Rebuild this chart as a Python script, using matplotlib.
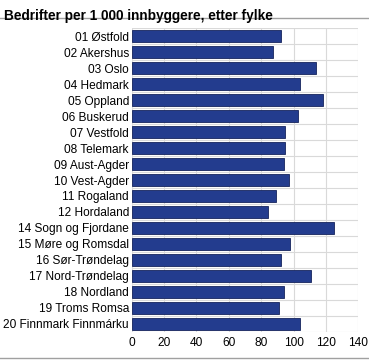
import matplotlib.pyplot as plt
from matplotlib.lines import Line2D

plt.rcParams['font.family'] = ['Liberation Sans', 'DejaVu Sans']

fylker = ['01 Østfold', '02 Akershus', '03 Oslo', '04 Hedmark', '05 Oppland',
          '06 Buskerud', '07 Vestfold', '08 Telemark', '09 Aust-Agder',
          '10 Vest-Agder', '11 Rogaland', '12 Hordaland', '14 Sogn og Fjordane',
          '15 Møre og Romsdal', '16 Sør-Trøndelag', '17 Nord-Trøndelag',
          '18 Nordland', '19 Troms Romsa', '20 Finnmark Finnmárku']
bedrifter = [92, 87, 114, 104, 118, 103, 95, 95, 94, 97,
             89, 84, 125, 98, 92, 111, 94, 91, 104]
xticks = [0, 20, 40, 60, 80, 100, 120, 140]

fig = plt.figure(figsize=(3.69, 3.60), dpi=100)
ax = fig.add_axes([0.357, 0.078, 0.614, 0.844])

pos = list(range(len(fylker)))
ax.barh(pos, bedrifter, height=0.75, color='#233c8e', edgecolor='#16245c',
        linewidth=0.6, zorder=3)

# row separators
for i in range(len(fylker) + 1):
    ax.axhline(i - 0.5, color='#d9d9d9', linewidth=0.8, zorder=1)

ax.set_xlim(0, 140)
ax.set_ylim(len(fylker) - 0.5, -0.5)
ax.set_xticks(xticks)
ax.set_yticks(pos)
ax.set_yticklabels(fylker)
ax.xaxis.grid(True, color='#d9d9d9', linewidth=0.8, zorder=1)
ax.set_axisbelow(True)
ax.tick_params(axis='both', length=0, labelsize=8.6, colors='#000000')
ax.tick_params(axis='y', pad=2)
ax.tick_params(axis='x', pad=4)
for s in ax.spines.values():
    s.set_visible(False)

fig.text(0.012, 0.975, 'Bedrifter per 1 000 innbyggere, etter fylke',
         fontsize=9.8, fontweight='bold', va='top', ha='left')
fig.add_artist(Line2D([0, 1], [0.949, 0.949], color='#a0a0a0', linewidth=1,
                      transform=fig.transFigure))
fig.add_artist(Line2D([0, 1], [0.006, 0.006], color='#a0a0a0', linewidth=1,
                      transform=fig.transFigure))

fig.savefig('out.png', dpi=100)
